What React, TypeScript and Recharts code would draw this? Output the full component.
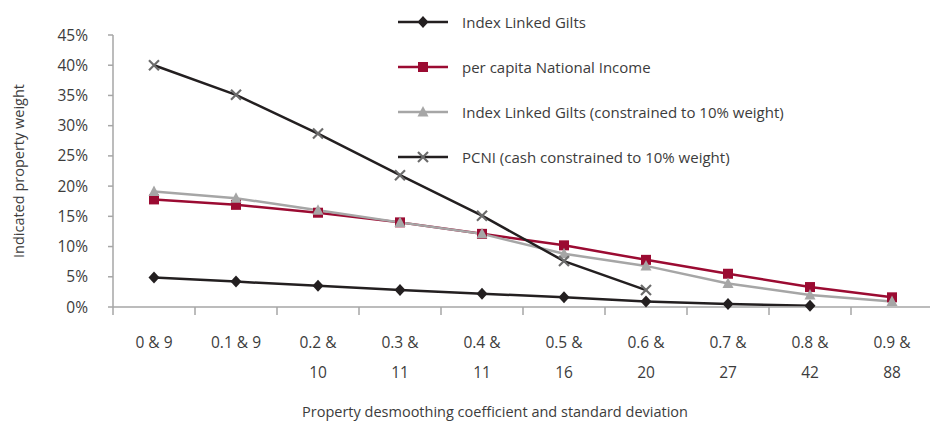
import React from "react";
import { LineChart, Line, XAxis, YAxis, Label } from "recharts";

const categories = ["0 & 9", "0.1 & 9", "0.2 & 10", "0.3 & 11", "0.4 & 11", "0.5 & 16", "0.6 & 20", "0.7 & 27", "0.8 & 42", "0.9 & 88"];
const indexLinkedGilts = [4.9, 4.2, 3.5, 2.8, 2.2, 1.6, 0.9, 0.5, 0.2, null];
const perCapitaIncome = [17.8, 16.9, 15.6, 14.0, 12.1, 10.2, 7.8, 5.5, 3.3, 1.6];
const giltsConstrained = [19.1, 18.0, 16.0, 14.0, 12.1, 8.8, 6.8, 3.9, 2.0, 0.9];
const pcniConstrained = [40, 35.1, 28.7, 21.8, 15.1, 7.6, 2.8, null, null, null];
const yTicks = [0, 5, 10, 15, 20, 25, 30, 35, 40, 45];

const seriesNames = [
  "Index Linked Gilts",
  "per capita National Income",
  "Index Linked Gilts (constrained to 10% weight)",
  "PCNI (cash constrained to 10% weight)",
];

const data = categories.map((c, i) => ({
  cat: c,
  ilg: indexLinkedGilts[i],
  pcni: perCapitaIncome[i],
  ilgc: giltsConstrained[i],
  pcnic: pcniConstrained[i],
}));

const FONT = "'Open Sans', Lato, sans-serif";
const TICK_FS = 15.5;
const LEG_FS = 15;
const TITLE_FS = 14.5;
const TEXT = "#3c3c3c";
const AXIS = "#a6a6a6";
const BLACK = "#231f20";
const RED = "#9b0b32";
const GREY = "#a6a6a6";
const XGREY = "#6b6b6b";

const W = 940;
const H = 421;
const M = { top: 35, right: 7, bottom: 54, left: 0 };
const Y_W = 113;
const BAND = (W - M.left - M.right - Y_W) / categories.length;

type MarkerKind = "diamond" | "square" | "triangle" | "cross";

function Marker({ kind, cx, cy }: { kind: MarkerKind; cx: number; cy: number }) {
  if (kind === "diamond") {
    return <path d={`M${cx},${cy - 6}L${cx + 5.5},${cy}L${cx},${cy + 6}L${cx - 5.5},${cy}Z`} fill={BLACK} />;
  }
  if (kind === "square") {
    return <rect x={cx - 5} y={cy - 5} width={10} height={10} fill={RED} />;
  }
  if (kind === "triangle") {
    return <path d={`M${cx},${cy - 6}L${cx + 5.5},${cy + 4.5}L${cx - 5.5},${cy + 4.5}Z`} fill={GREY} />;
  }
  return (
    <g stroke={XGREY} strokeWidth={2.2}>
      <line x1={cx - 5} y1={cy - 5} x2={cx + 5} y2={cy + 5} />
      <line x1={cx - 5} y1={cy + 5} x2={cx + 5} y2={cy - 5} />
    </g>
  );
}

const makeDot = (kind: MarkerKind) => (props: any) => {
  const { cx, cy, index, value } = props;
  if (cx == null || cy == null || value == null) return <g key={`${kind}-${index}`} />;
  return (
    <g key={`${kind}-${index}`}>
      <Marker kind={kind} cx={cx} cy={cy} />
    </g>
  );
};

function CategoryTick(props: any) {
  const { x, y, payload } = props;
  const label: string = payload.value;
  const lines = label.length > 7 ? [label.split(" & ")[0] + " &", label.split(" & ")[1]] : [label];
  const edge = x - BAND / 2;
  return (
    <g>
      <line x1={edge} x2={edge} y1={y - 8} y2={y} stroke={AXIS} strokeWidth={1.5} />
      {lines.map((t, i) => (
        <text key={i} x={x} y={y + 27 + i * 30} textAnchor="middle" dominantBaseline="central"
          fill={TEXT} fontSize={TICK_FS} fontFamily={FONT}>
          {t}
        </text>
      ))}
    </g>
  );
}

const legendItems: { name: string; color: string; kind: MarkerKind }[] = [
  { name: seriesNames[0], color: BLACK, kind: "diamond" },
  { name: seriesNames[1], color: RED, kind: "square" },
  { name: seriesNames[2], color: GREY, kind: "triangle" },
  { name: seriesNames[3], color: BLACK, kind: "cross" },
];

function LegendBox() {
  return (
    <svg width={460} height={180} style={{ position: "absolute", left: 398, top: 0, overflow: "visible" }}>
      {legendItems.map((it, i) => {
        const cy = 22 + i * 45;
        return (
          <g key={it.name}>
            <line x1={0} x2={50} y1={cy} y2={cy} stroke={it.color} strokeWidth={2.5} />
            <Marker kind={it.kind} cx={25} cy={cy} />
            <text x={64} y={cy} dominantBaseline="central" fill={TEXT} fontSize={LEG_FS} fontFamily={FONT}>
              {it.name}
            </text>
          </g>
        );
      })}
    </svg>
  );
}

export default function App() {
  return (
    <div style={{ position: "absolute", left: 0, top: 0, width: 930, height: 421, overflow: "hidden", background: "#fff" }}>
      <LineChart width={W} height={H} data={data} margin={M}>
        <XAxis
          dataKey="cat"
          interval={0}
          height={60}
          padding={{ left: BAND / 2, right: BAND / 2 }}
          axisLine={{ stroke: AXIS, strokeWidth: 1.5 }}
          tickLine={false}
          tickSize={8}
          tickMargin={0}
          tick={<CategoryTick />}
        >
          <Label
            content={() => (
              <text x={495} y={411} textAnchor="middle" dominantBaseline="central" fill={TEXT} fontSize={TITLE_FS} fontFamily={FONT}>
                Property desmoothing coefficient and standard deviation
              </text>
            )}
          />
        </XAxis>
        <YAxis
          width={Y_W}
          domain={[0, 45]}
          ticks={yTicks}
          interval={0}
          axisLine={{ stroke: AXIS, strokeWidth: 1.5 }}
          tickLine={{ stroke: AXIS, strokeWidth: 1.5 }}
          tickSize={5}
          tickMargin={20}
          tickFormatter={(v) => `${v}%`}
          tick={{ fill: TEXT, fontSize: TICK_FS, fontFamily: FONT }}
        >
          <Label
            content={() => (
              <text x={18} y={171} transform="rotate(-90 18 171)" textAnchor="middle" dominantBaseline="central"
                fill={TEXT} fontSize={TITLE_FS} fontFamily={FONT}>
                Indicated property weight
              </text>
            )}
          />
        </YAxis>
        <Line dataKey="ilg" name={seriesNames[0]} stroke={BLACK} strokeWidth={2.5} dot={makeDot("diamond")} activeDot={false} isAnimationActive={false} />
        <Line dataKey="pcni" name={seriesNames[1]} stroke={RED} strokeWidth={2.5} dot={makeDot("square")} activeDot={false} isAnimationActive={false} />
        <Line dataKey="ilgc" name={seriesNames[2]} stroke={GREY} strokeWidth={2.5} dot={makeDot("triangle")} activeDot={false} isAnimationActive={false} />
        <Line dataKey="pcnic" name={seriesNames[3]} stroke={BLACK} strokeWidth={2.5} dot={makeDot("cross")} activeDot={false} isAnimationActive={false} />
      </LineChart>
      <LegendBox />
    </div>
  );
}
